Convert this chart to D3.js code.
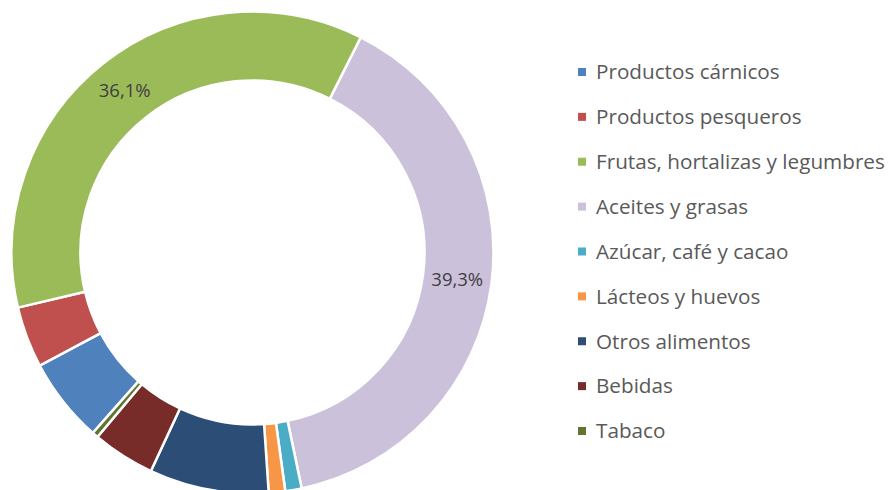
<!DOCTYPE html>
<html>
<head>
<meta charset="utf-8">
<script src="https://cdn.jsdelivr.net/npm/d3@7"></script>
<style>
  html, body { margin: 0; padding: 0; background: #fff; }
  svg { display: block; font-family: "Open Sans", Lato, sans-serif; }
</style>
</head>
<body>
<svg id="chart" width="890" height="490"></svg>
<script>
'use strict';

// categories in series order (Excel legend order)
var categories = [
    'Productos cárnicos',
    'Productos pesqueros',
    'Frutas, hortalizas y legumbres',
    'Aceites y grasas',
    'Azúcar, café y cacao',
    'Lácteos y huevos',
    'Otros alimentos',
    'Bebidas',
    'Tabaco'
];

// share of total, %
var shares = [5.7, 4.1, 36.1, 39.3, 1.1, 1.1, 8.0, 4.2, 0.4];

// only these slices carry a data label
var labelled = ['Frutas, hortalizas y legumbres', 'Aceites y grasas'];

var colors = ['#4F81BD', '#C0504D', '#9BBB59', '#CCC1DA', '#4BACC6', '#F79646', '#2C4D75', '#772C2A', '#5F7530'];

var data = categories.map(function (c, i) { return {name: c, value: shares[i]}; });

var svg = d3.select('#chart');

var cx = 252.5, cy = 252.5,
    outerR = 241, innerR = 172,
    firstAngle = 221.5 * Math.PI / 180;

var color = d3.scaleOrdinal().domain(categories).range(colors);

var pie = d3.pie()
    .sort(null)
    .value(function (d) { return d.value; })
    .startAngle(firstAngle)
    .endAngle(firstAngle + 2 * Math.PI);

var arc = d3.arc().innerRadius(innerR).outerRadius(outerR);

var donut = svg.append('g').attr('transform', 'translate(' + cx + ',' + cy + ')');

var arcs = pie(data);

donut.selectAll('.slice')
    .data(arcs)
  .enter().append('path')
    .attr('class', 'slice')
    .attr('d', arc)
    .attr('fill', function (d) { return color(d.data.name); })
    .attr('stroke', '#fff')
    .attr('stroke-width', 2.5)
    .attr('stroke-linejoin', 'miter');

//data labels at the centroid of the ring
donut.selectAll('.lbl')
    .data(arcs.filter(function (d) { return labelled.indexOf(d.data.name) >= 0; }))
  .enter().append('text')
    .attr('class', 'lbl')
    .attr('transform', function (d) { return 'translate(' + arc.centroid(d) + ')'; })
    .attr('text-anchor', 'middle')
    .attr('dy', '0.35em')
    .attr('fill', '#404040')
    .style('font-size', '18.5px')
    .text(function (d) { return d3.format('.1f')(d.data.value).replace('.', ',') + '%'; });

//legend
var ly = d3.scalePoint().domain(categories).range([72, 431]);

var legend = svg.append('g').attr('class', 'legend');

var item = legend.selectAll('.item')
    .data(categories)
  .enter().append('g')
    .attr('class', 'item')
    .attr('transform', function (d) { return 'translate(578,' + ly(d) + ')'; });

item.append('rect')
    .attr('x', 0)
    .attr('y', -4)
    .attr('width', 8)
    .attr('height', 8)
    .attr('fill', function (d) { return color(d); });

item.append('text')
    .attr('x', 18)
    .attr('dy', '0.35em')
    .attr('fill', '#595959')
    .style('font-size', '20.7px')
    .text(function (d) { return d; });
</script>
</body>
</html>
